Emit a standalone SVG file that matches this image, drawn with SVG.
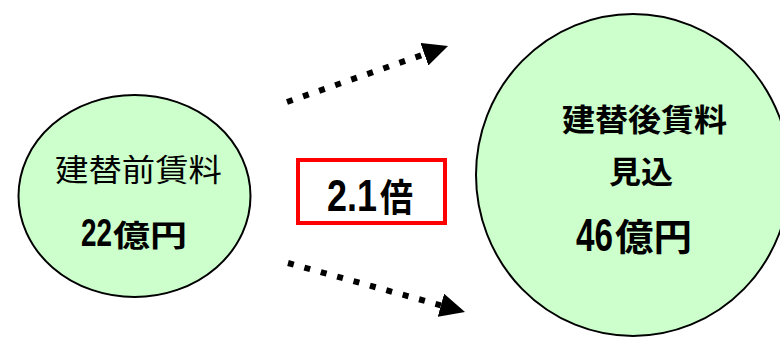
<svg xmlns="http://www.w3.org/2000/svg" width="780" height="337" viewBox="0 0 780 337">
  <style>
    .bubble { fill: #CCFFCC; stroke: #000; stroke-width: 2; }
    .jp { font-family: "Noto Sans CJK JP", sans-serif; fill: #000; }
    .num { font-family: "Liberation Sans", "Noto Sans CJK JP", sans-serif; font-weight: bold; }
    .b { font-weight: bold; }
    .dots { fill: none; stroke: #000; stroke-width: 6; stroke-dasharray: 6 11; }
  </style>
  <defs>
    <marker id="head" markerUnits="userSpaceOnUse" markerWidth="26" markerHeight="24" refX="0" refY="12" orient="auto">
      <path d="M0,0 L25,12 L0,24 Z" fill="#000"/>
    </marker>
  </defs>
  <rect width="780" height="337" fill="#fff"/>

  <g id="connectors">
    <line class="dots" x1="287" y1="102" x2="424.4" y2="54.2" marker-end="url(#head)"/>
    <line class="dots" x1="288" y1="263" x2="440.9" y2="305.3" marker-end="url(#head)"/>
  </g>

  <g id="before">
    <ellipse class="bubble" cx="134.5" cy="196" rx="116" ry="101"/>
    <text class="jp" x="55" y="181" font-size="31" textLength="167" lengthAdjust="spacingAndGlyphs">建替前賃料</text>
    <text class="jp b" y="246"><tspan class="num" x="81" font-size="38" textLength="31" lengthAdjust="spacingAndGlyphs">22</tspan><tspan x="113" font-size="30" textLength="74" lengthAdjust="spacingAndGlyphs">億円</tspan></text>
  </g>

  <g id="ratio">
    <rect x="298" y="160" width="147" height="63" fill="#fff" stroke="#FF0000" stroke-width="4"/>
    <text class="jp b" y="211"><tspan class="num" x="327" font-size="45" textLength="50" lengthAdjust="spacingAndGlyphs">2.1</tspan><tspan x="380" font-size="38" textLength="33" lengthAdjust="spacingAndGlyphs">倍</tspan></text>
  </g>

  <g id="after">
    <ellipse class="bubble" cx="633" cy="175" rx="157" ry="161"/>
    <text class="jp b" x="562" y="131" font-size="31" textLength="165" lengthAdjust="spacingAndGlyphs">建替後賃料</text>
    <text class="jp b" x="609" y="183" font-size="31" textLength="64" lengthAdjust="spacingAndGlyphs">見込</text>
    <text class="jp b" y="251"><tspan class="num" x="576" font-size="46" textLength="37" lengthAdjust="spacingAndGlyphs">46</tspan><tspan x="615" font-size="37" textLength="77" lengthAdjust="spacingAndGlyphs">億円</tspan></text>
  </g>
</svg>
